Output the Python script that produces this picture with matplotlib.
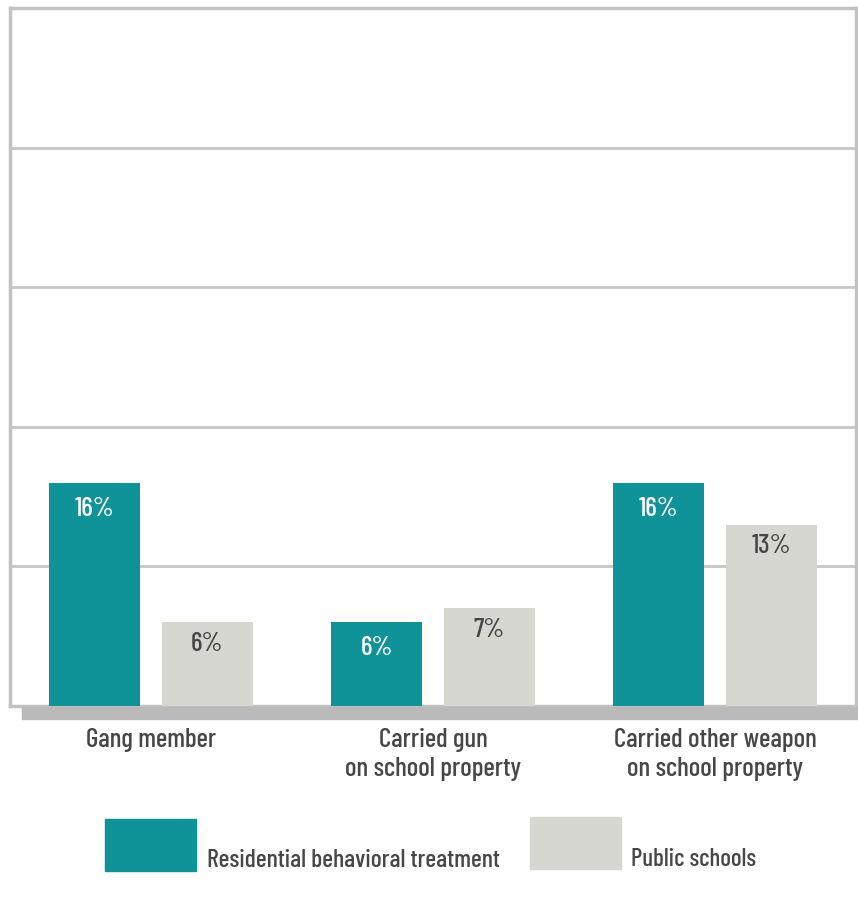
import matplotlib.pyplot as plt
import numpy as np
from matplotlib.patches import Rectangle

categories = ["Gang member", "Carried gun\non school property", "Carried other weapon\non school property"]
residential = [16, 6, 16]
public = [6, 7, 13]
series_names = ["Residential behavioral treatment", "Public schools"]

teal = "#0f9298"
light = "#d7d7d2"
text_col = "#474747"
plt.rcParams['font.family'] = ['Barlow Condensed', 'DejaVu Sans']
plt.rcParams['font.weight'] = 'medium'

fig = plt.figure(figsize=(8.58, 9.04), dpi=100)
W, H = 858, 904
ax = fig.add_axes([10 / W, 1 - 707 / H, 846 / W, 698 / H])

x = np.arange(len(categories))
bw = 0.323
b1 = ax.bar(x - 0.2, residential, bw, color=teal, zorder=3)
b2 = ax.bar(x + 0.2, public, bw, color=light, zorder=3)

# value labels just under the top of each bar
for rect, v in zip(b1, residential):
    ax.annotate(f"{v}%", (rect.get_x() + rect.get_width() / 2, v), xytext=(0, -18),
                textcoords="offset points", ha="center", va="center",
                fontsize=19.5, color="white")
for rect, v in zip(b2, public):
    ax.annotate(f"{v}%", (rect.get_x() + rect.get_width() / 2, v), xytext=(0, -15),
                textcoords="offset points", ha="center", va="center",
                fontsize=19.5, color=text_col)

ax.set_xlim(-0.5, 2.5)
ax.set_ylim(0, 50)
ax.set_yticks([10, 20, 30, 40])
ax.yaxis.grid(True, color="#c6c6c6", linewidth=2, zorder=0)
ax.tick_params(left=False, bottom=False, labelleft=False, labelbottom=False)
for s in ax.spines.values():
    s.set_color("#c2c2c2")
    s.set_linewidth(2.5)

# category labels below the base
for xi, lab in zip(x, categories):
    ax.text(xi, -1.5, lab, ha="center", va="top", fontsize=19.5, color=text_col,
            linespacing=1.27)

# grey base band under the plot
fig.patches.append(Rectangle((22 / W, 1 - 720 / H), (W - 22) / W, 12 / H,
                             transform=fig.transFigure, color="#bababa", zorder=1))

# legend
fig.patches.append(Rectangle((105 / W, 1 - 872 / H), 91 / W, 52 / H,
                             transform=fig.transFigure, color=teal))
fig.text(207 / W, 1 - 861 / H, series_names[0], ha="left", va="center",
         fontsize=18.5, color=text_col)
fig.patches.append(Rectangle((530 / W, 1 - 870 / H), 91 / W, 52 / H,
                             transform=fig.transFigure, color=light))
fig.text(631 / W, 1 - 860 / H, series_names[1], ha="left", va="center",
         fontsize=18, color=text_col)

fig.savefig("out.png", dpi=100)
